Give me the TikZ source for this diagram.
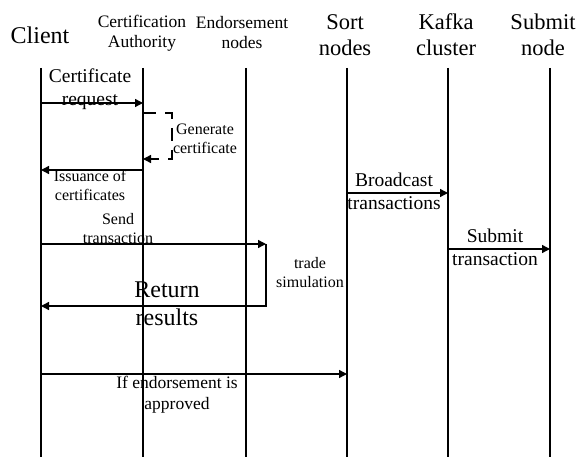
\documentclass[tikz,border=0pt]{standalone}
\usepackage{fontspec}
\setmainfont{Liberation Serif}
\usetikzlibrary{arrows.meta}
\begin{document}
\begin{tikzpicture}[x=1pt,y=-1pt,
  life/.style={line width=1.4pt},
  msg/.style={line width=1.4pt,-{Triangle[length=8pt,width=8pt]}},
  dmsg/.style={line width=1.4pt,dash pattern=on 13pt off 9pt,-{Triangle[length=8pt,width=8pt]}},
  lbl/.style={inner sep=0pt,align=center},
  headbig/.style={lbl,font=\fontsize{22.5}{26}\selectfont},
  headsmall/.style={lbl,font=\fontsize{17.5}{20}\selectfont},
  fbig/.style={lbl,font=\fontsize{19.5}{23}\selectfont},
  fmid/.style={lbl,font=\fontsize{17.5}{21}\selectfont},
  fsmall/.style={lbl,font=\fontsize{16}{19}\selectfont},
  fhuge/.style={lbl,font=\fontsize{24}{28}\selectfont}]
\useasboundingbox (0,0) rectangle (581,457);
% lifelines
\foreach \n/\x in {A/41,B/143,C/246,D/347,E/448,F/550}{
  \coordinate (t\n) at (\x,68);
  \coordinate (b\n) at (\x,457);
  \draw[life] (t\n) -- (b\n);
}
% heads
\node[headbig,font=\fontsize{24}{26}\selectfont] (hA) at (40,35) {Client};
\node[headsmall] (hB) at (142,33) {Certification\\Authority};
\node[headsmall] (hC) at (242,33) {Endorsement\\nodes};
\node[headbig] (hD) at (345,35) {Sort\\nodes};
\node[headbig] (hE) at (446,35) {Kafka\\cluster};
\node[headbig] (hF) at (543,35) {Submit\\node};
% certificate request
\coordinate (m1s) at (41,103);
\coordinate (m1e) at (143,103);
\draw[msg] (m1s) -- (m1e);
\node[fbig] (l1) at (90,89) {Certificate\\request};
% generate certificate
\coordinate (g1) at (143,113);
\coordinate (g2) at (172,113);
\coordinate (g3) at (172,159);
\coordinate (g4) at (143,159);
\draw[dmsg] (g1) -- (g2) -- (g3) -- (g4);
\node[fsmall] (l2) at (205,139) {Generate\\certificate};
% issuance
\coordinate (m3s) at (143,170);
\coordinate (m3e) at (41,170);
\draw[msg] (m3s) -- (m3e);
\node[fsmall] (l3) at (90,185) {Issuance of\\certificates};
% broadcast
\coordinate (m4s) at (347,193);
\coordinate (m4e) at (448,193);
\draw[msg] (m4s) -- (m4e);
\node[fbig] (l4) at (394,191) {Broadcast\\transactions};
% send transaction
\coordinate (m5s) at (41,244);
\coordinate (m5e) at (266,244);
\draw[msg] (m5s) -- (m5e);
\node[fsmall] (l5) at (118,229) {Send\\transaction};
% trade simulation / return results
\coordinate (m6c) at (266,306);
\coordinate (m6e) at (41,306);
\draw[msg] (m5e) -- (m6c) -- (m6e);
\node[fsmall] (l6) at (310,273) {trade\\simulation};
\node[fhuge] (l7) at (167,304) {Return\\results};
% submit transaction
\coordinate (m8s) at (448,249);
\coordinate (m8e) at (550,249);
\draw[msg] (m8s) -- (m8e);
\node[fbig] (l8) at (495,247) {Submit\\transaction};
% if endorsement
\coordinate (m9s) at (41,374);
\coordinate (m9e) at (347,374);
\draw[msg] (m9s) -- (m9e);
\node[fmid] (l9) at (177,395) {If endorsement is\\approved};
\end{tikzpicture}
\end{document}
